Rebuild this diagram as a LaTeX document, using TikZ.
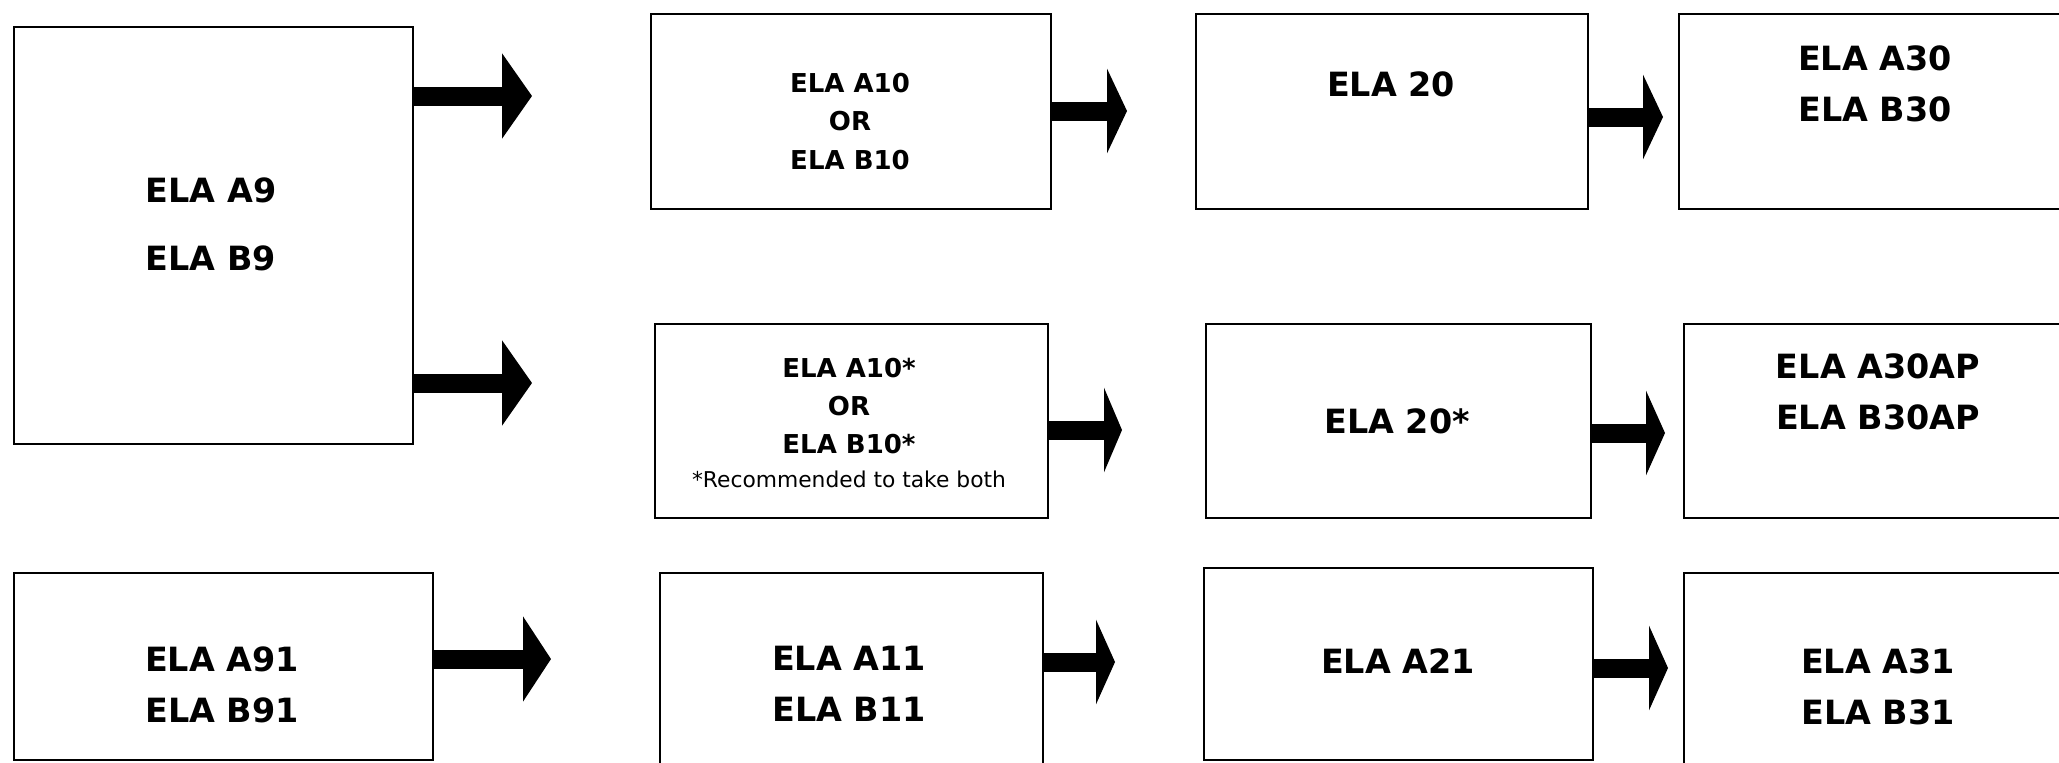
\documentclass[tikz,border=0pt]{standalone}
\usepackage{fontspec}
\setmainfont{DejaVu Sans}
\usetikzlibrary{arrows.meta}

\tikzset{blk/.style={line width=0.19cm, -{Triangle[length=#1, width=0.84cm]}}, blk/.default=0.19cm}

\begin{document}
\begin{tikzpicture}
	\tikzstyle{box}=[draw, line width=0.6pt, inner sep=0, anchor=north west]
	\tikzstyle{big}=[font=\bfseries\fontsize{9.5}{14.5}\selectfont, align=center]
	\tikzstyle{small}=[font=\bfseries\fontsize{7.4}{10.9}\selectfont, align=center]
	\tikzstyle{note}=[font=\fontsize{6.2}{7.5}\selectfont]
	
	\useasboundingbox (0,0) rectangle (20.59,-7.62);
	\clip (0,0) rectangle (20.59,-7.62);
	
	% Grade 9
	\node[box, minimum width=3.99cm, minimum height=4.17cm] (b9) at (0.13,-0.26) {};
	\node[big] (t9) at (2.11,-2.245) {ELA A9\\[5pt]ELA B9};
	\node[box, minimum width=4.19cm, minimum height=1.87cm] (b91) at (0.13,-5.72) {};
	\node[big] (t91) at (2.22,-6.845) {ELA A91\\ELA B91};
	
	% Grade 10
	\node[box, minimum width=4.00cm, minimum height=1.95cm] (ba10) at (6.50,-0.13) {};
	\node[small] (ta10) at (8.50,-1.215) {ELA A10\\OR\\ELA B10};
	\node[box, minimum width=3.93cm, minimum height=1.94cm] (bs10) at (6.54,-3.23) {};
	\node[small] (ts10) at (8.49,-4.06) {ELA A10*\\OR\\ELA B10*};
	\node[note] (nt) at (8.49,-4.79) {*Recommended to take both};
	\node[box, minimum width=3.83cm, minimum height=2.10cm] (b11) at (6.59,-5.72) {};
	\node[big] (t11) at (8.49,-6.84) {ELA A11\\ELA B11};
	
	% Grade 11
	\node[box, minimum width=3.92cm, minimum height=1.95cm] (b20) at (11.95,-0.13) {};
	\node[big] (t20) at (13.91,-0.84) {ELA 20};
	\node[box, minimum width=3.85cm, minimum height=1.94cm] (bs20) at (12.05,-3.23) {};
	\node[big] (ts20) at (13.97,-4.21) {ELA 20*};
	\node[box, minimum width=3.89cm, minimum height=1.92cm] (b21) at (12.03,-5.67) {};
	\node[big] (t21) at (13.98,-6.61) {ELA A21};
	
	% Grade 12
	\node[box, minimum width=3.95cm, minimum height=1.95cm] (b30) at (16.78,-0.13) {};
	\node[big] (t30) at (18.75,-0.835) {ELA A30\\ELA B30};
	\node[box, minimum width=3.95cm, minimum height=1.94cm] (bap) at (16.83,-3.23) {};
	\node[big] (tap) at (18.78,-3.92) {ELA A30AP\\ELA B30AP};
	\node[box, minimum width=3.95cm, minimum height=2.10cm] (b31) at (16.83,-5.72) {};
	\node[big] (t31) at (18.78,-6.865) {ELA A31\\ELA B31};
	
	% Arrows
	\foreach \b/\x/\y/\h [count=\i] in {b9/5.32/0.96/0.30cm, b9/5.32/3.83/0.30cm, b91/5.51/6.59/0.28cm,
		ba10/11.27/1.11/0.20cm, bs10/11.22/4.30/0.18cm, b11/11.15/6.62/0.19cm,
		b20/16.63/1.17/0.20cm, bs20/16.65/4.33/0.19cm, b21/16.68/6.68/0.19cm}
	{
		\coordinate (tip\i) at (\x,-\y);
		\draw[blk=\h] (\b.east |- tip\i) -- (tip\i);
	}
\end{tikzpicture}
\end{document}
